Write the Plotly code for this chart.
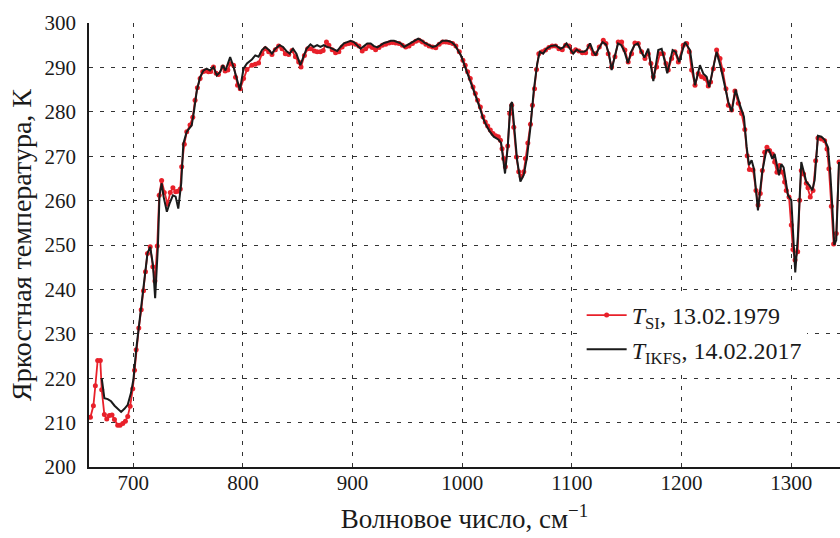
import plotly.graph_objects as go

# Red series: T_SI, 13.02.1979
wn_si = [661, 663.7, 665.5, 667.6, 670, 671.3, 673.7, 675.9, 678.3, 680.7, 682.9, 685.9, 688, 690.5,
         692.9, 695, 697.2, 699.6, 701.2, 702.7, 705.1, 707.3, 709.4, 711.2, 713, 715.5, 717.9, 719.8,
         721.9, 723.7, 725.9, 728.3, 731.3, 733.8, 736.2, 738.7, 740.8, 742.9, 744.2, 746.6, 748.8,
         751.8, 754.3, 756.4, 758.5, 761, 763.4, 765.5, 768.6, 770.7, 773.2, 775.6, 777.7, 781.7,
         783.8, 786.3, 788.4, 791.5, 793.3, 795.1, 797.6, 800.6, 803.7, 808.2, 811.3, 814.3, 817.4,
         820.4, 823.5, 826.5, 829.6, 832.6, 835.7, 838.7, 841.8, 844.8, 847.9, 850.9, 853.0, 856.1,
         859.1, 862.2, 865.2, 867.7, 870.7, 873.2, 876.2, 878.4, 881.4, 884.5, 887.5, 890.5, 893.6,
         896.6, 899.7, 902.7, 905.8, 908.8, 911.9, 914.9, 918, 921, 924.1, 927.1, 930.2, 933.2,
         936.3, 939.3, 942.4, 945.4, 948.5, 951.5, 954.6, 957.6, 960.7, 963.7, 966.8, 969.8, 972.9,
         975.9, 979, 982, 985.1, 988.1, 991.2, 994.2, 997.3, 1000.6, 1002.7, 1004.9, 1007.3, 1009.8,
         1011.9, 1014, 1016.5, 1018.9, 1021, 1023.2, 1025.6, 1028, 1030.5, 1032.9, 1034.8, 1036.3,
         1037.8, 1039.3, 1041.5, 1043.3, 1045.1, 1047, 1049.4, 1051.5, 1053.7, 1056.1, 1057.6, 1059.8,
         1062.2, 1064, 1065.9, 1067.7, 1069.8, 1072.9, 1075.9, 1079, 1082, 1085.1, 1088.1, 1091.2,
         1094.2, 1097.3, 1100.3, 1103.4, 1106.4, 1109.5, 1112.5, 1115.5, 1119.5, 1121.9, 1124.9,
         1128.6, 1131, 1133.1, 1136.2, 1139.2, 1142.2, 1145.3, 1148.3, 1151.3, 1154.4, 1157.4,
         1160.5, 1163.5, 1166.6, 1169.6, 1172, 1174.2, 1177.2, 1180.2, 1183.3, 1185.7, 1187.8,
         1190.9, 1193.9, 1197, 1201.5, 1204.6, 1207, 1209.1, 1212.2, 1215.2, 1218.2, 1221.3, 1224.3,
         1226.4, 1228.9, 1231.9, 1235, 1237.4, 1240.4, 1242.6, 1245.6, 1248.6, 1251.7, 1254.7,
         1257.6, 1259.8, 1261.8, 1265.1, 1267.8, 1269.7, 1271.7, 1273.6, 1275.7, 1277.8, 1280.2,
         1282.7, 1284.8, 1286.9, 1289.4, 1291.8, 1293.9, 1295.4, 1297.9, 1300, 1301.5, 1303.4,
         1305.8, 1307.6, 1309.1, 1311.2, 1313.7, 1315.2, 1317.3, 1319.8, 1322.2, 1324.3, 1327.4,
         1330.4, 1332.5, 1334.3, 1336.5, 1338.6, 1341, 1343.5]
t_si = [211.2, 213.8, 218.3, 224.0, 224.0, 217.4, 211.8, 210.8, 211.6, 211.7, 210.7, 209.4, 209.4, 209.8,
        210.3, 211.4, 213.7, 217.6, 221.8, 226.4, 231.3, 235.4, 239.7, 244.0, 248.1, 249.6, 245.1, 241.9,
        249.8, 261.2, 264.5, 261.8, 259.2, 261.8, 262.9, 262.0, 262.1, 262.6, 267.6, 272.7, 275.5,
        277.0, 278.8, 282.6, 285.4, 287.5, 289.0, 289.2, 289.0, 289.1, 290.1, 288.7, 288.4, 290.1,
        289.2, 289.4, 290.8, 290.5, 287.8, 286.0, 285.2, 287.5, 289.5, 290.5, 290.7, 291.0, 293.1,
        294.2, 293.5, 292.9, 294.0, 294.8, 294.2, 293.1, 292.9, 293.8, 292.4, 291.2, 290.1, 292.7,
        294.2, 294.2, 293.7, 293.5, 293.5, 293.8, 295.7, 295.0, 294.0, 293.3, 293.5, 294.6, 295.2,
        295.4, 295.5, 295.2, 294.8, 293.7, 294.2, 294.8, 294.5, 294.0, 294.5, 295.0, 295.2, 295.5,
        295.6, 295.5, 295.4, 295.0, 294.6, 294.8, 295.4, 295.9, 296.1, 295.7, 295.2, 294.8, 294.6,
        294.4, 295.2, 295.7, 295.7, 295.6, 295.4, 294.8, 293.5, 291.6, 290.5, 289.0, 287.5, 285.6,
        284.1, 282.6, 281.1, 278.9, 277.7, 276.8, 275.9, 275.1, 274.6, 274.4, 273.6, 271.7,
        269.5, 267.6, 272.3, 279.6, 281.5, 276.5, 269.8, 266.5, 265.4, 266.5, 269.5, 273.0,
        277.2, 281.5, 285.2, 289.5, 293.1, 293.5, 293.9, 294.5, 294.8, 294.8, 294.2, 294.0,
        295.0, 294.8, 293.5, 294.0, 293.7, 293.3, 293.3, 294.8, 293.1, 293.1, 294.6,
        296.1, 295.4, 293.1, 290.1, 292.4, 295.7, 295.7, 293.9, 291.2, 293.1, 295.5,
        295.4, 293.5, 292.0, 293.1, 290.9, 287.9, 290.1, 293.1, 293.1, 290.9, 289.4,
        292.0, 293.5, 291.2, 295.0, 295.4, 293.5, 289.4, 286.0, 288.6, 287.9, 287.5, 285.8,
        286.7, 289.7, 293.9, 292.0, 289.4, 285.2, 281.5, 280.4, 284.7, 281.9, 279.6,
        276.0, 270.1, 267.0, 266.9, 262.3, 259.0, 261.6, 266.8, 270.9, 272.0, 271.3,
        270.5, 268.7, 266.4, 267.9, 266.4, 264.2, 262.3, 260.8, 254.5, 249.0, 246.6,
        248.5, 260.1, 266.8, 266.0, 263.9, 262.9, 260.8, 262.3, 269.0, 274.1, 273.9,
        273.5, 271.6, 267.2, 258.7, 250.2, 252.6, 268.7]

# Black series: T_IKFS, 14.02.2017
wn_ikfs = [671.3, 673.7, 676.8, 679.8, 683, 686.8, 689, 692, 695, 698, 700.2, 702.7, 705.1, 707.3, 709.4,
           711.2, 713, 715.5, 718, 720, 722.5, 724, 726, 727.7, 730.7, 733.2, 736.2, 738.7, 741.1,
           743.8, 745.7, 748.8, 753.4, 755.5, 758, 761, 764, 767, 770, 773.2, 776.2, 779.3, 781.7,
           784.1, 788.4, 791.5, 794.5, 797.3, 800.6, 803.7, 808.2, 811.3, 814.3, 817.4, 820.4, 823.5,
           826.5, 829.6, 833.5, 836.6, 839.6, 842.7, 845.7, 848.8, 852.4, 854.9, 858, 861.6, 864.6,
           867.7, 870.7, 873.8, 876.8, 879.9, 882.9, 886, 889, 892.1, 895.1, 898.2, 901.2, 904.3,
           907.3, 910.4, 913.4, 916.5, 919.5, 922.6, 925.6, 928.7, 931.7, 934.8, 937.8, 940.9, 943.9,
           947, 950, 953, 956.1, 959.8, 962.8, 965.9, 969.8, 972.9, 975.9, 979, 982, 986.6, 990.2,
           993.3, 996.3, 998.8, 1001, 1004, 1007, 1010, 1013, 1016, 1019, 1022, 1025, 1028.7, 1033.2,
           1035.4, 1037.2, 1039, 1041.5, 1043.9, 1045.4, 1047.6, 1050, 1053, 1056.1, 1059.1, 1062.2,
           1065.2, 1068.3, 1070.7, 1073.8, 1076.8, 1080.5, 1085.1, 1089.6, 1092, 1095.1, 1098.2,
           1101.2, 1104.3, 1107.3, 1111, 1113.4, 1116.5, 1119.5, 1121.6, 1124.7, 1128, 1131, 1133.7,
           1136.2, 1139, 1142, 1145, 1148, 1151, 1154, 1157, 1160, 1163, 1166, 1169.6, 1174.2,
           1178.7, 1181.8, 1184.5, 1186.9, 1191.8, 1194.5, 1197.9, 1203, 1207.6, 1212.2, 1216.7,
           1219.8, 1222.8, 1225.2, 1228, 1231.9, 1235.6, 1239.5, 1242.6, 1245.6, 1249.2, 1253.2,
           1256.8, 1259.3, 1261.4, 1263.8, 1265.9, 1269.6, 1273.5, 1277.2, 1279.6, 1282.7, 1284.8,
           1288.8, 1290.9, 1293, 1297, 1300, 1301.5, 1303.6, 1306, 1309.1, 1312.2, 1313.7, 1316.7,
           1319.1, 1321.3, 1324.3, 1327.4, 1330.4, 1333.4, 1335.6, 1337.4, 1339.2, 1341, 1343.5]
t_ikfs = [220.0, 215.5, 215.3, 214.8, 213.8, 212.9, 212.4, 213.1, 214.0, 216.7, 219.7, 226.4, 231.3, 235.4,
          239.7, 244.0, 248.1, 249.6, 245.5, 238.0, 249.6, 261.2, 263.9, 260.9, 257.5, 259.4, 261.2,
          260.9, 258.2, 263.9, 272.8, 275.5, 277.0, 280.3, 284.8, 287.8, 289.3, 289.7, 289.3, 290.1,
          288.2, 289.0, 290.5, 289.3, 292.3, 290.1, 287.5, 284.9, 289.7, 290.9, 291.8, 292.7, 292.4,
          293.9, 294.6, 294.0, 293.1, 294.2, 295.0, 294.6, 293.7, 293.1, 294.2, 293.1, 290.5, 292.0,
          294.2, 295.2, 294.6, 295.0, 294.6, 295.0, 294.6, 294.4, 294.0, 293.7, 294.6, 295.4, 295.7,
          296.0, 295.7, 295.0, 294.2, 294.8, 295.4, 295.4, 294.8, 294.5, 295.0, 295.5, 295.7, 296.0,
          296.0, 295.7, 295.4, 294.6, 295.0, 295.5, 296.0, 296.5, 296.1, 295.5, 295.0, 294.6, 294.8,
          295.5, 296.0, 296.0, 295.7, 295.0, 293.9, 292.7, 291.2, 289.2, 287.4, 285.2, 283.0, 280.9,
          278.5, 276.9, 275.6, 274.4, 273.7, 273.0, 269.5, 266.1, 272.2, 281.5, 282.2, 275.9, 269.2,
          264.3, 265.8, 269.9, 276.6, 284.8, 290.8, 293.5, 293.1, 294.2, 294.8, 295.0, 294.2, 294.5,
          295.4, 294.2, 293.1, 294.0, 293.5, 293.5, 293.9, 295.4, 293.5, 292.7, 294.4, 295.7, 295.2,
          293.1, 289.4, 292.4, 295.4, 295.0, 293.5, 291.0, 293.5, 295.0, 295.4, 293.7, 292.2, 294.2,
          286.9, 293.9, 294.2, 291.5, 288.7, 293.9, 293.5, 291.2, 295.7, 293.9, 286.0, 290.5, 288.6,
          287.9, 285.6, 289.0, 293.5, 290.1, 286.0, 282.2, 280.0, 285.0, 281.5, 278.9, 272.1, 268.0,
          269.1, 267.2, 257.8, 266.5, 271.3, 271.4, 269.4, 270.5, 265.7, 268.2, 267.5, 261.2, 260.1,
          252.6, 243.8, 251.9, 268.7, 265.7, 264.2, 263.4, 262.3, 264.6, 274.6, 274.4, 273.7, 272.0,
          266.0, 258.6, 250.0, 251.1, 268.7]

x_ticks = [700, 800, 900, 1000, 1100, 1200, 1300]
y_ticks = [200, 210, 220, 230, 240, 250, 260, 270, 280, 290, 300]

FONT = "Liberation Serif"

fig = go.Figure()
fig.add_trace(go.Scatter(
    x=wn_si, y=t_si, mode="lines+markers",
    name="<i>T</i><sub>SI</sub>, 13.02.1979",
    line=dict(color="#e8202a", width=1.8),
    marker=dict(color="#e8202a", size=5),
))
fig.add_trace(go.Scatter(
    x=wn_ikfs, y=t_ikfs, mode="lines",
    name="<i>T</i><sub>IKFS</sub>, 14.02.2017",
    line=dict(color="#1a1a1a", width=2),
))

grid = dict(showgrid=True, gridcolor="#333333", gridwidth=1, griddash="4px,7px")

fig.update_layout(
    width=840, height=538,
    margin=dict(l=89, r=0, t=23, b=71),
    paper_bgcolor="white", plot_bgcolor="white",
    font=dict(family=FONT, size=20, color="#1a1a1a"),
    showlegend=True,
    legend=dict(
        x=0.656, y=0.392, xanchor="left", yanchor="top",
        bgcolor="white", borderwidth=0,
        font=dict(family=FONT, size=24, color="#1a1a1a"),
        tracegroupgap=0, itemwidth=40,
    ),
    xaxis=dict(
        range=[659.7, 1344.4], tickvals=x_ticks, ticks="",
        showline=True, linecolor="#1a1a1a", linewidth=1.5,
        zeroline=False, ticklabelstandoff=-4, automargin=False,
        tickfont=dict(size=21),
        title=dict(text="Волновое число, см<sup>−1</sup>", font=dict(size=27), standoff=15),
        **grid,
    ),
    yaxis=dict(
        range=[200, 300], tickvals=y_ticks, ticks="",
        showline=True, linecolor="#1a1a1a", linewidth=1.5,
        zeroline=False, ticklabelstandoff=7, automargin=False,
        tickfont=dict(size=21),
        title=dict(text="Яркостная температура, К", font=dict(size=28), standoff=5),
        **grid,
    ),
)

fig.write_html(
    "out.html",
    config={"displayModeBar": False},
    post_script="document.body.style.margin='0';document.body.style.overflow='hidden';",
)
